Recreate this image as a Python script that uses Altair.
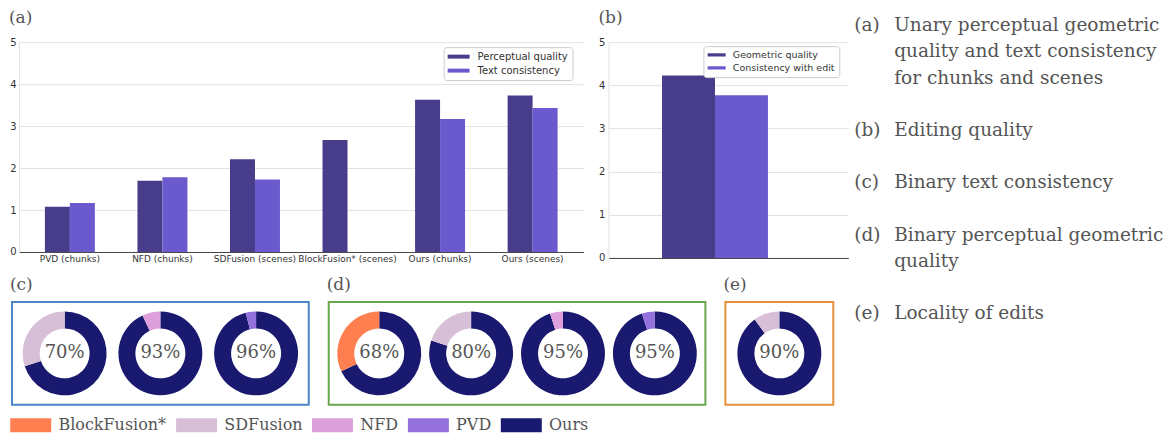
import altair as alt
import pandas as pd

# ---------------- data ----------------
cats_a = ["PVD (chunks)", "NFD (chunks)", "SDFusion (scenes)",
          "BlockFusion* (scenes)", "Ours (chunks)", "Ours (scenes)"]
series_a = ["Perceptual quality", "Text consistency"]
perceptual_a = [1.08, 1.70, 2.21, 2.67, 3.63, 3.73]
text_a = [1.17, 1.78, 1.73, None, 3.17, 3.43]

series_b = ["Geometric quality", "Consistency with edit"]
values_b = [4.23, 3.77]

methods = ["BlockFusion*", "SDFusion", "NFD", "PVD", "Ours"]
method_colors = ["#ff7f50", "#d8bfd8", "#dda0dd", "#9370db", "#191970"]

c_rivals = ["SDFusion", "NFD", "PVD"]
c_ours = [70, 93, 96]
d_rivals = ["BlockFusion*", "SDFusion", "NFD", "PVD"]
d_ours = [68, 80, 95, 95]
e_rivals = ["SDFusion"]
e_ours = [90]

caption_tags = ["(a)", "(b)", "(c)", "(d)", "(e)"]
caption_lines = [
    ["Unary perceptual geometric", "quality and text consistency", "for chunks and scenes"],
    ["Editing quality"],
    ["Binary text consistency"],
    ["Binary perceptual geometric", "quality"],
    ["Locality of edits"],
]

bar_colors = ["#483d8b", "#6a5acd"]
SERIF = "DejaVu Serif"
SANS = "DejaVu Sans"
GREY = "#555555"


def panel_title(txt, dx, offset):
    return alt.TitleParams(text=txt, anchor="start", frame="group", font=SERIF,
                           fontSize=17, fontWeight="normal", color=GREY,
                           dx=dx, offset=offset)


def y_axis(pad):
    return alt.Axis(values=[0, 1, 2, 3, 4, 5], grid=True, gridColor="#e3e3e3",
                    gridWidth=1, domainColor="#e3e3e3", ticks=False,
                    labelFont=SANS, labelFontSize=10, labelColor="#333333",
                    labelPadding=pad, title=None)


def bar_legend(x, y, r, label_size, row_pad, label_gap):
    # wide flat swatch: path spans 4r x 1.46r while the legend lays it out as 2r
    return alt.Legend(title=None, orient="none", legendX=x, legendY=y,
                      symbolType="M-2,-0.36L2,-0.36L2,0.36L-2,0.36Z",
                      symbolSize=(2 * r) ** 2, symbolStrokeWidth=0,
                      symbolOffset=r, labelOffset=label_gap + r,
                      labelFont=SANS, labelFontSize=label_size,
                      labelColor="#333333", padding=4, rowPadding=row_pad,
                      strokeColor="#cccccc", fillColor="white", cornerRadius=3)


def grouped_bars(df, cats, series, bandwidth, xscale, xaxis, yaxis, legend, width, height, tag):
    color = alt.Color("series:N", scale=alt.Scale(domain=series, range=bar_colors),
                      legend=legend)
    base = alt.Chart(df).encode(
        x=alt.X("cat:N", sort=cats, scale=xscale, axis=xaxis),
        y=alt.Y("value:Q", scale=alt.Scale(domain=[0, 5]), axis=yaxis),
        color=color,
    )
    left_bars = base.transform_filter(alt.datum.series == series[0]).mark_bar(
        width=alt.RelativeBandSize(0.5), xOffset=-bandwidth / 4)
    right_bars = base.transform_filter(alt.datum.series == series[1]).mark_bar(
        width=alt.RelativeBandSize(0.5), xOffset=bandwidth / 4)
    return alt.layer(left_bars, right_bars).properties(
        width=width, height=height, title=panel_title(tag, -10, 10))


# ---------------- (a) ----------------
rows_a = []
for c, p, t in zip(cats_a, perceptual_a, text_a):
    rows_a.append({"cat": c, "series": series_a[0], "value": p})
    if t is not None:
        rows_a.append({"cat": c, "series": series_a[1], "value": t})
df_a = pd.DataFrame(rows_a)

W_A = 565
pi_a, po_a = 0.46, 0.28
bw_a = W_A / (len(cats_a) - pi_a + 2 * po_a) * (1 - pi_a)
chart_a = grouped_bars(
    df_a, cats_a, series_a, bw_a,
    alt.Scale(paddingInner=pi_a, paddingOuter=po_a),
    alt.Axis(title=None, labelAngle=0, labelFont=SANS, labelFontSize=9,
             labelColor="#333333", ticks=False, domainColor="#444444",
             labelOverlap=False, labelPadding=3, labelLimit=300),
    y_axis(3), bar_legend(425, 5, 5.5, 10, 3, 8), W_A, 210, "(a)")

# ---------------- (b) ----------------
cats_b = ["Editing"]
df_b = pd.DataFrame({"cat": cats_b * len(series_b), "series": series_b, "value": values_b})
W_B = 240
po_b = 0.632
bw_b = W_B / (1 + 2 * po_b)
chart_b = grouped_bars(
    df_b, cats_b, series_b, bw_b,
    alt.Scale(paddingInner=0, paddingOuter=po_b, align=0.4),
    alt.Axis(title=None, labels=False, ticks=False, domainColor="#444444"),
    y_axis(3.5), bar_legend(95, 4, 4.5, 9.5, 2, 7), W_B, 216, "(b)")

# ---------------- donuts ----------------


def donut_chart(rivals, ours, width, tag, stroke, show_legend):
    rows = []
    for i, (r, o) in enumerate(zip(rivals, ours)):
        rows.append({"donut": i, "method": "Ours", "start": 0, "end": o, "pct": f"{o}%"})
        rows.append({"donut": i, "method": r, "start": o, "end": 100, "pct": f"{o}%"})
    df = pd.DataFrame(rows)
    xenc = alt.X("donut:O", scale=alt.Scale(type="point", padding=0.55), axis=None)
    if show_legend:
        r = 10.25
        leg = alt.Legend(title=None, orient="none", legendX=r - 2, legendY=112.75,
                         direction="horizontal", columns=5,
                         symbolType="M-2,-0.68L2,-0.68L2,0.68L-2,0.68Z",
                         symbolSize=(2 * r) ** 2, symbolStrokeWidth=0,
                         labelFont=SERIF, labelFontSize=16, labelColor=GREY,
                         columnPadding=9, labelOffset=7 + r, padding=0)
    else:
        leg = None
    color = alt.Color("method:N", scale=alt.Scale(domain=methods, range=method_colors),
                      legend=leg)
    arcs = alt.Chart(df).mark_arc(innerRadius=25, outerRadius=42).encode(
        x=xenc,
        theta=alt.Theta("start:Q", scale=alt.Scale(domain=[0, 100]), stack=None),
        theta2="end:Q",
        color=color,
    )
    labels = alt.Chart(df).transform_filter(alt.datum.method == "Ours").mark_text(
        font=SERIF, fontSize=18, color=GREY).encode(x=xenc, text="pct:N")
    return alt.layer(arcs, labels).properties(
        width=width, height=103, title=panel_title(tag, -2, 8),
        view=alt.ViewBackground(stroke=stroke, strokeWidth=2))


chart_c = donut_chart(c_rivals, c_ours, 297, "(c)", "#4a86c8", True)
chart_d = donut_chart(d_rivals, d_ours, 377, "(d)", "#6aa84f", False)
chart_e = donut_chart(e_rivals, e_ours, 108, "(e)", "#e69138", False)

# ---------------- captions ----------------
cap_rows = []
slot = 0
for tag, lines in zip(caption_tags, caption_lines):
    for i, line in enumerate(lines):
        if i == 0:
            cap_rows.append({"slot": slot + i, "col": "tag", "txt": tag})
        cap_rows.append({"slot": slot + i, "col": "body", "txt": line})
    slot += len(lines) + 1
df_cap = pd.DataFrame(cap_rows)

LINE = 26.2
cap_off = 17 / LINE
captions = alt.Chart(df_cap).mark_text(
    font=SERIF, fontSize=18.5, color=GREY, align="left", baseline="middle").encode(
    x=alt.X("col:N", scale=alt.Scale(type="point", domain=["tag", "body"], range=[0, 40], padding=0), axis=None),
    y=alt.Y("slot:Q", scale=alt.Scale(domain=[cap_off, cap_off + 11], reverse=True, zero=False, nice=False), axis=None),
    text="txt:N",
).properties(width=240, height=11 * LINE)

# ---------------- layout ----------------


def spacer():
    return alt.Chart(pd.DataFrame({"s": [0]})).mark_text(text="").properties(width=1, height=1)


inner_top = alt.hconcat(chart_a, chart_b, spacing=25, bounds="flush").resolve_scale(color="independent")
inner_bottom = alt.hconcat(chart_c, chart_d, chart_e, spacing=20, bounds="flush").resolve_scale(color="independent")
top = alt.hconcat(spacer(), inner_top, spacing=0).resolve_scale(color="independent")
bottom = alt.hconcat(spacer(), inner_bottom, spacing=0).resolve_scale(color="independent")
left = alt.vconcat(top, bottom, spacing=11).resolve_scale(color="independent")
chart = alt.hconcat(left, captions, spacing=6).resolve_scale(
    color="independent").properties(
    padding={"left": 0, "top": 1, "right": 0, "bottom": 0}).configure_view(strokeWidth=0)

chart.save("out.html", embed_options={"renderer": "svg", "actions": False})
